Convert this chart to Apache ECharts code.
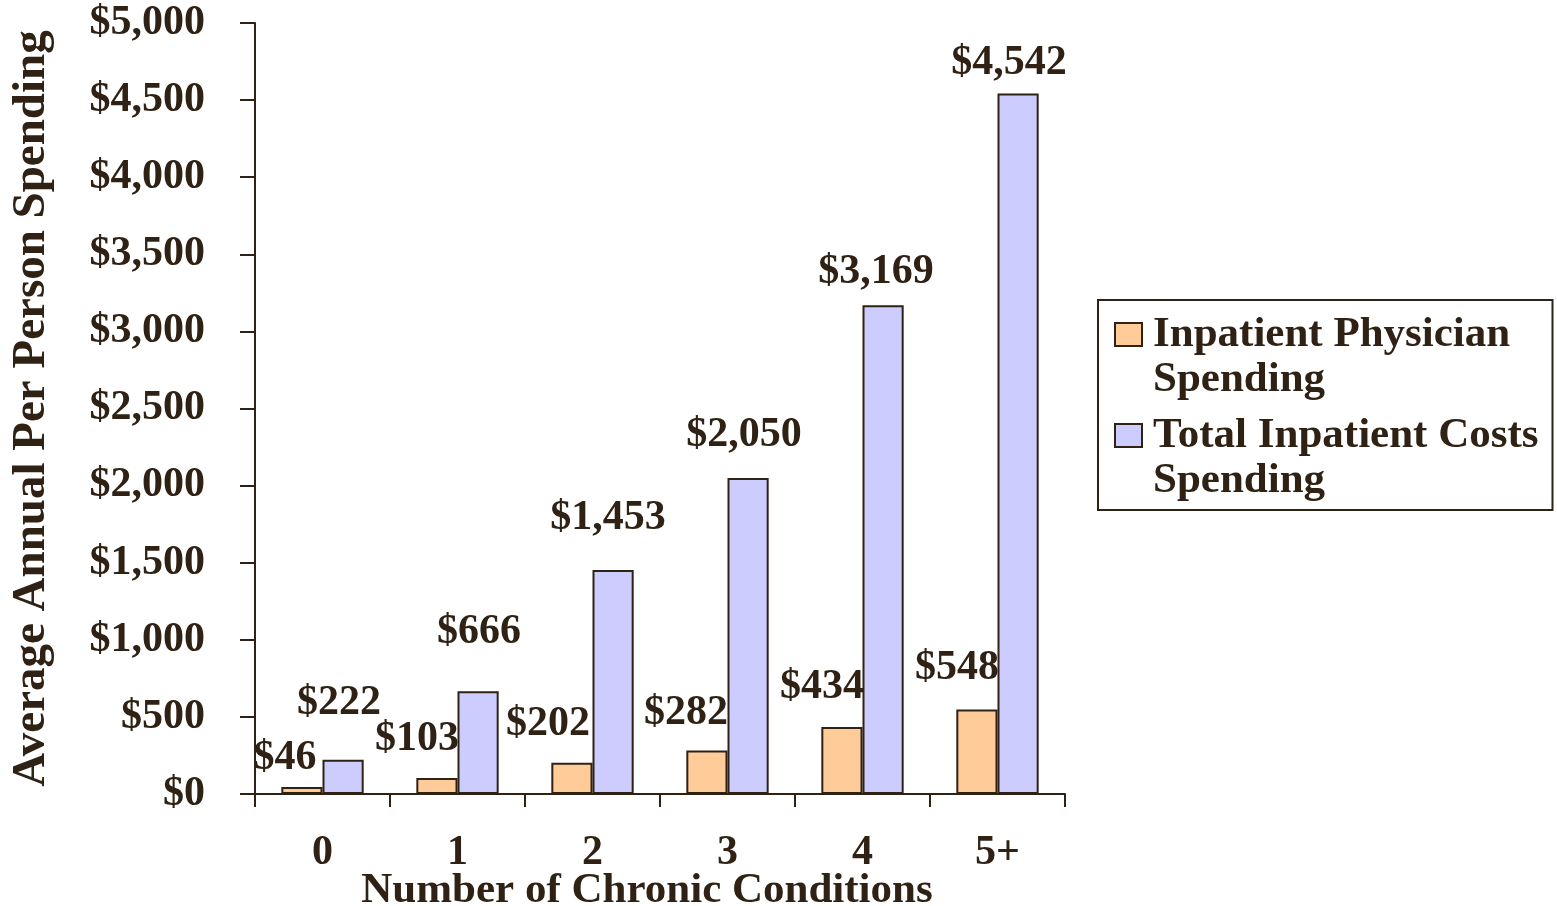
<!DOCTYPE html>
<html>
<head>
<meta charset="utf-8">
<script src="https://cdn.jsdelivr.net/npm/echarts@6/dist/echarts.min.js"></script>
<style>
  html, body { margin: 0; padding: 0; background: #fff; }
  #chart { width: 1557px; height: 906px; }
</style>
</head>
<body>
<div id="chart"></div>
<script>
// ---- data ----
const categories = ['0', '1', '2', '3', '4', '5+'];
const physicianSpending = [46, 103, 202, 282, 434, 548];
const totalInpatientSpending = [222, 666, 1453, 2050, 3169, 4542];
const seriesNames = ['Inpatient Physician\nSpending', 'Total Inpatient Costs\nSpending'];
const yMin = 0, yMax = 5000, yStep = 500;

// ---- label placement (styling, not data) ----
const physLabelDx = [-17, -20, -24, -21, -20, -20];
const physLabelDist = [8, 18, 18, 16, 19, 20];
const totalLabelDx = [-4, 1, -5, -4, -7, -9];
const totalLabelDist = [36, 38, 31, 22, 12, 9];

const INK = '#2f2214';
const FONT = '"Liberation Serif", "Times New Roman", serif';
const money = v => '$' + Number(v).toLocaleString('en-US');

function buildItems(values, dx, dist) {
  return values.map((v, i) => ({
    value: v,
    label: { distance: dist[i], offset: [dx[i], 0] }
  }));
}

const chart = echarts.init(document.getElementById('chart'), null, { renderer: 'canvas' });
const option = {
  animation: false,
  backgroundColor: '#ffffff',
  textStyle: { fontFamily: FONT, color: INK },
  grid: { left: 255, right: 492, top: 23, bottom: 112, containLabel: false, outerBoundsMode: 'none' },
  legend: {
    orient: 'vertical',
    left: 1098,
    top: 300,
    padding: [12, 14, 7, 16],
    itemGap: 11,
    itemWidth: 33,
    itemHeight: 68,
    icon: 'path://M0,0L27,0L27,23L0,23Z M33,68',
    selectedMode: false,
    borderColor: INK,
    borderWidth: 2,
    backgroundColor: '#ffffff',
    itemStyle: { borderColor: INK, borderWidth: 2 },
    textStyle: { fontFamily: FONT, fontWeight: 'bold', fontSize: 43, lineHeight: 45, color: INK },
    data: seriesNames
  },
  xAxis: {
    type: 'category',
    data: categories,
    boundaryGap: true,
    name: 'Number of Chronic Conditions',
    nameLocation: 'middle',
    nameGap: 75,
    nameMoveOverlap: false,
    nameTextStyle: { fontFamily: FONT, fontWeight: 'bold', fontSize: 43, color: INK, padding: [0, 26, 0, 0] },
    axisLine: { show: true, lineStyle: { color: INK, width: 2 } },
    axisTick: { show: true, interval: 0, alignWithLabel: false, length: 13, lineStyle: { color: INK, width: 2 } },
    axisLabel: { interval: 0, margin: 38, fontFamily: FONT, fontWeight: 'bold', fontSize: 42, color: INK },
    splitLine: { show: false }
  },
  yAxis: {
    type: 'value',
    min: yMin,
    max: yMax,
    interval: yStep,
    name: 'Average Annual Per Person Spending',
    nameLocation: 'middle',
    nameGap: 200,
    nameMoveOverlap: false,
    nameTextStyle: { fontFamily: FONT, fontWeight: 'bold', fontSize: 47, color: INK },
    axisLine: { show: true, lineStyle: { color: INK, width: 2 } },
    axisTick: { show: true, length: 15, lineStyle: { color: INK, width: 2 } },
    axisLabel: { margin: 50, padding: [10, 0, 0, 0], fontFamily: FONT, fontWeight: 'bold', fontSize: 42, color: INK, formatter: money },
    splitLine: { show: false }
  },
  series: [
    {
      name: seriesNames[0],
      type: 'bar',
      barGap: '0%',
      barCategoryGap: '39%',
      data: buildItems(physicianSpending, physLabelDx, physLabelDist),
      itemStyle: { color: '#FFCC99', borderColor: INK, borderWidth: 2 },
      label: {
        show: true, position: 'top',
        fontFamily: FONT, fontWeight: 'bold', fontSize: 42, color: INK,
        formatter: p => money(p.value)
      },
      emphasis: { disabled: true }
    },
    {
      name: seriesNames[1],
      type: 'bar',
      barGap: '0%',
      barCategoryGap: '39%',
      data: buildItems(totalInpatientSpending, totalLabelDx, totalLabelDist),
      itemStyle: { color: '#CCCCFF', borderColor: INK, borderWidth: 2 },
      label: {
        show: true, position: 'top',
        fontFamily: FONT, fontWeight: 'bold', fontSize: 42, color: INK,
        formatter: p => money(p.value)
      },
      emphasis: { disabled: true }
    }
  ]
};
chart.setOption(option);
</script>
</body>
</html>
